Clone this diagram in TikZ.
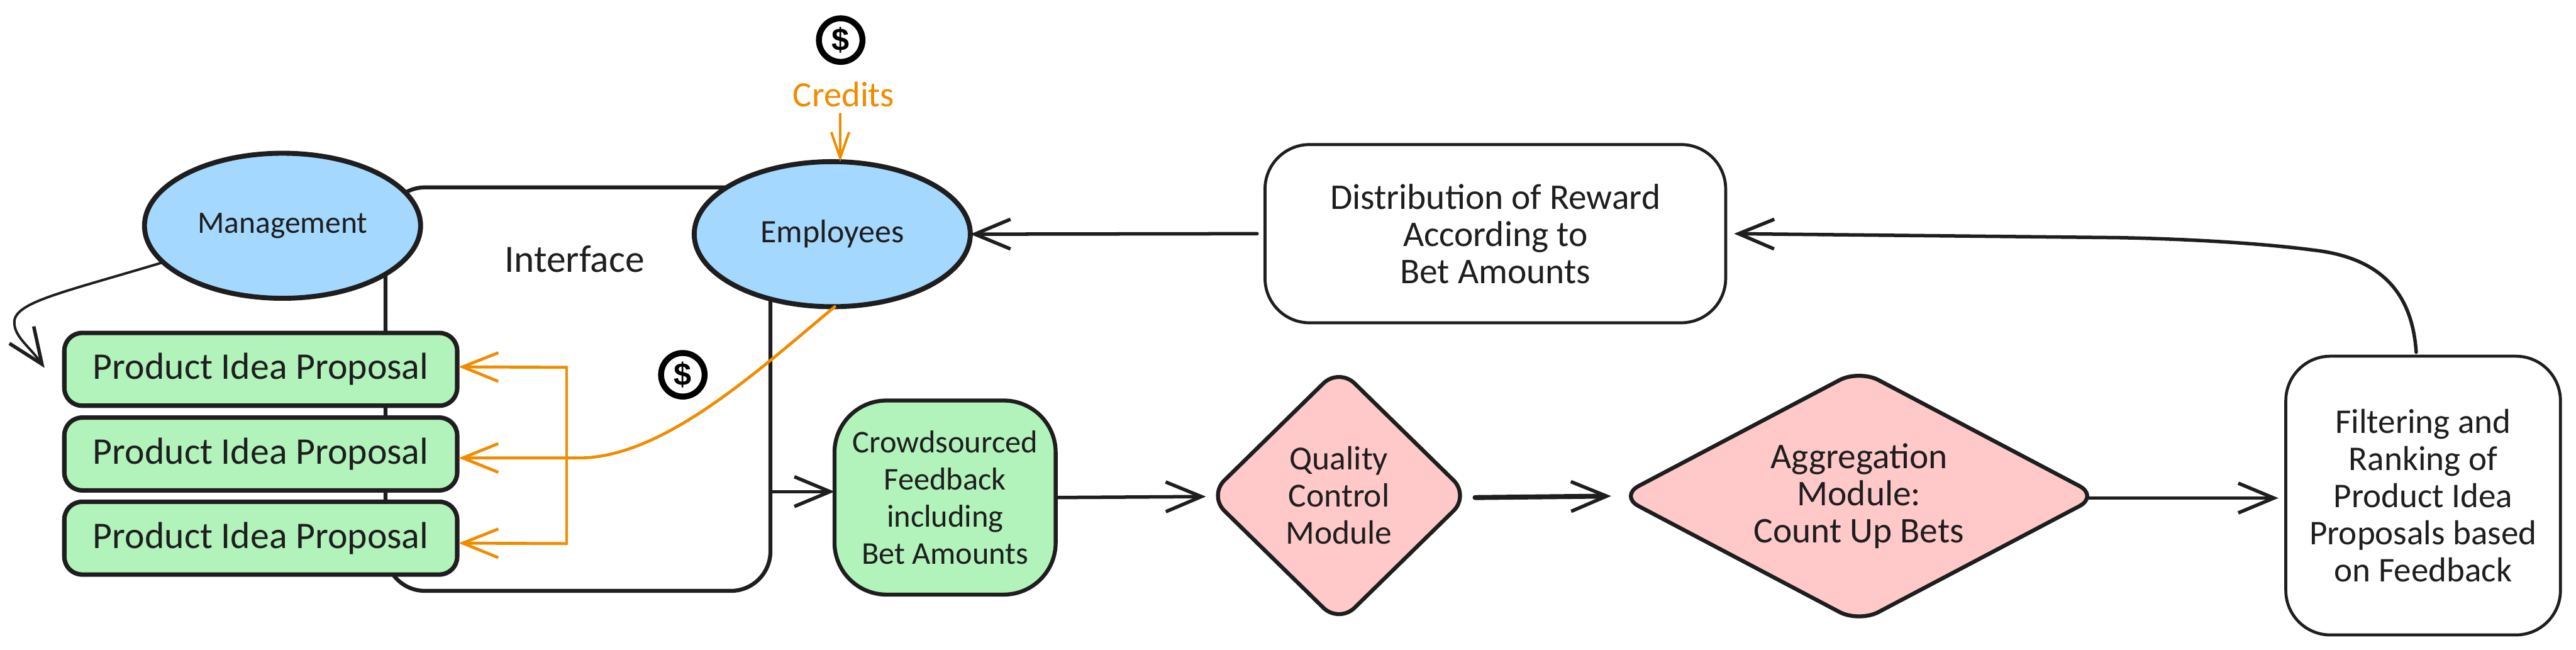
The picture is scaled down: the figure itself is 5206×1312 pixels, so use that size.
\documentclass[tikz,border=0pt]{standalone}
\usepackage{fontspec}
\setmainfont{Carlito}
\newfontfamily\dollarfont{Liberation Sans}
\usetikzlibrary{arrows.meta,shapes.geometric}
\definecolor{ink}{HTML}{1E1E1E}
\definecolor{bluefill}{HTML}{A5D8FF}
\definecolor{greenfill}{HTML}{B2F2BB}
\definecolor{pinkfill}{HTML}{FFC9C9}
\definecolor{orangeink}{HTML}{F08C00}
\newcommand{\sz}[1]{\fontsize{#1}{75}\selectfont}
\tikzset{
  every node/.style={outer sep=0pt,inner sep=0pt,text=ink,font=\sz{68},align=center},
  oval/.style={draw=ink,line width=10pt,fill=bluefill,ellipse,minimum width=558pt,minimum height=293pt},
  ideabox/.style={draw=ink,line width=9pt,fill=greenfill,rounded corners=36pt,minimum width=794pt,minimum height=147pt,font=\sz{76}},
  whitebox/.style={draw=ink,line width=6pt,fill=white,rounded corners=90pt},
  gem/.style={draw=ink,line width=8pt,fill=pinkfill,diamond,rounded corners=44pt},
  link/.style={draw=ink,line width=7pt,line cap=round,-{Straight Barb[length=72pt,width=60pt,line width=7pt]}},
  orangelink/.style={draw=orangeink,line width=6pt,line cap=round,-{Straight Barb[length=72pt,width=58pt,line width=6pt]}},
  smallorange/.style={draw=orangeink,line width=5pt,line cap=round,-{Straight Barb[length=52pt,width=36pt,line width=5pt]}},
  coin/.style={draw=black,line width=12pt,circle,minimum size=88pt,text=black,font=\fontsize{64}{64}\dollarfont\bfseries\selectfont}
}
\begin{document}
\begin{tikzpicture}[x=1pt,y=-1pt]
\useasboundingbox (0,0) rectangle (5206,1312);
\fill[white] (0,0) rectangle (5206,1312);
% interface frame
\node[draw=ink,line width=8pt,rounded corners=80pt,minimum width=778pt,minimum height=815pt] (frame) at (1168,786) {};
% actors
\node[oval,font=\sz{63}] (mgmt) at (571,456) {Management};
\node[oval,font=\sz{66}] (emp) at (1682,473) {Employees};
\node[font=\sz{78}] (iface) at (1161,523) {Interface};
% proposals
\node[ideabox] (idea1) at (527,746) {Product Idea Proposal};
\node[ideabox] (idea2) at (527,917) {Product Idea Proposal};
\node[ideabox] (idea3) at (527,1087) {Product Idea Proposal};
% pipeline
\node[draw=ink,line width=8pt,fill=greenfill,rounded corners=105pt,minimum width=447pt,minimum height=392pt,font=\sz{64}] (crowd) at (1910,1005) {Crowdsourced\\Feedback\\including\\Bet Amounts};
\node[gem,minimum width=526pt,minimum height=515pt] (quality) at (2706,1001) {Quality\\Control\\Module};
\node[gem,aspect=1.9,minimum width=968pt,minimum height=510pt,font=\sz{73}] (aggr) at (3757,1002) {Aggregation\\Module:\\Count Up Bets};
\node[whitebox,minimum width=555pt,minimum height=563pt,font=\sz{70}] (filter) at (4897,1001) {Filtering and\\Ranking of\\Product Idea\\Proposals based\\on Feedback};
\node[whitebox,minimum width=931pt,minimum height=360pt,font=\sz{73}] (dist) at (3022,472) {Distribution of Reward\\According to\\Bet Amounts};
% credits
\node[coin] (coinA) at (1699,81) {\$};
\node[coin] (coinB) at (1380,757) {\$};
\node[text=orangeink,font=\sz{72}] (credits) at (1705,191) {Credits};
% connectors
\draw[link] ([xshift=-16pt]dist.west) -- (emp.east);
\draw[link] ([xshift=-14pt,yshift=8pt]filter.north) .. controls (4875,590) and (4810,520) .. (4674,505) .. controls (4560,490) and (4400,482) .. (4278,480) -- ([xshift=17pt]dist.east);
\draw[link,line width=10pt] ([xshift=12pt,yshift=-4pt]quality.east) -- ([xshift=-17pt]aggr.west);
\draw[link] (crowd.east) -- ([xshift=-6pt,yshift=-2pt]quality.west);
\draw[link] ([xshift=-18pt,yshift=-4pt]aggr.east) -- ([xshift=-15pt,yshift=-5pt]filter.west);
\draw[link] (frame.east |- crowd.west) ++(0,-12) coordinate (tap) (tap) -- ([yshift=12pt]crowd.west);
\draw[link,line width=5pt] (mgmt.197) .. controls (130,590) and (30,610) .. (29,650) .. controls (28,680) and (60,700) .. ([xshift=-40pt,yshift=3pt]idea1.west);
\draw[smallorange] ([xshift=-7pt,yshift=-14pt]credits.south) -- ([xshift=16pt]emp.north);
\coordinate (busT) at (1145,742);
\coordinate (busB) at (1145,1098);
\draw[draw=orangeink,line width=6pt,line cap=round] (busT) -- (busB);
\draw[orangelink] (busT) -- ([xshift=3pt,yshift=5pt]idea1.east);
\draw[orangelink] (busB) -- ([xshift=3pt,yshift=-10pt]idea3.east);
\draw[orangelink] (emp.272) .. controls (1530,750) and (1340,925) .. (1170,925) -- ([xshift=3pt,yshift=-8pt]idea2.east);
\end{tikzpicture}
\end{document}
